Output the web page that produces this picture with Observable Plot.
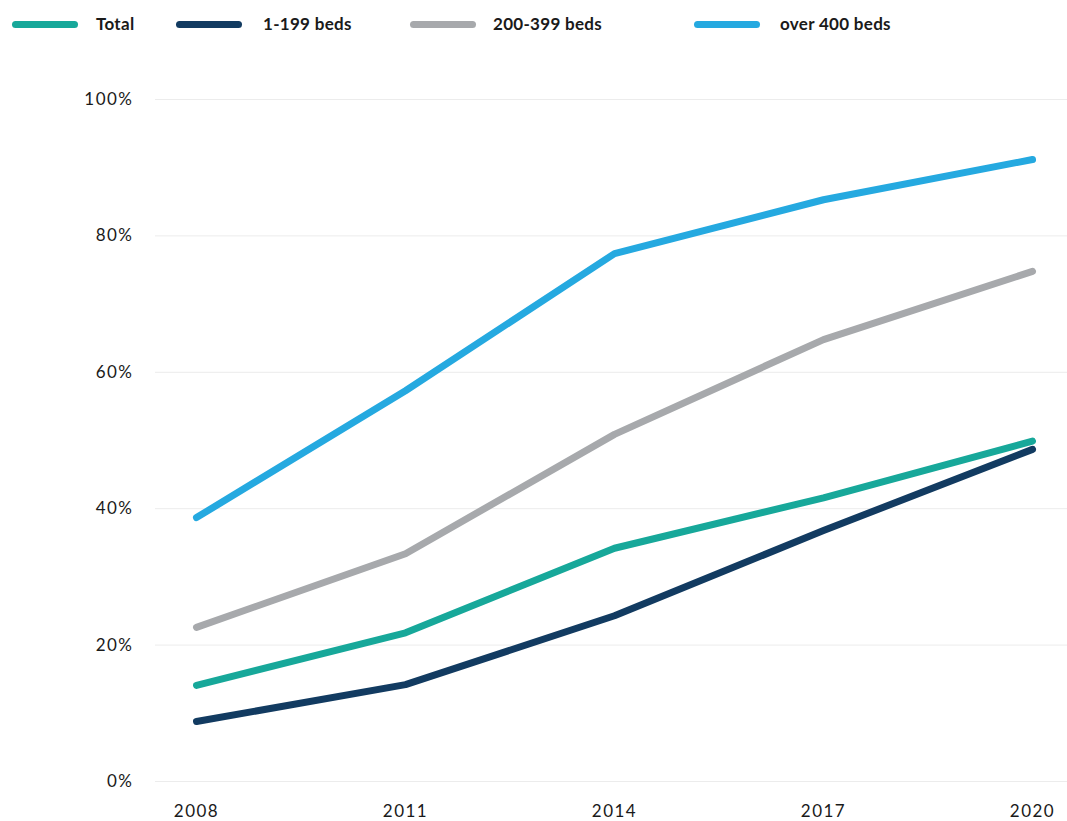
<!DOCTYPE html>
<html>
<head>
<meta charset="utf-8">
<script src="https://cdn.jsdelivr.net/npm/d3@7"></script>
<script src="https://cdn.jsdelivr.net/npm/@observablehq/plot@0.6"></script>
<style>
  html, body { margin: 0; padding: 0; background: #fff; }
  body { width: 1067px; height: 821px; overflow: hidden; font-family: Lato, "Open Sans", sans-serif; }
  #legend { position: relative; height: 48px; width: 1067px; }
  .sw { position: absolute; top: 21px; width: 66px; height: 7px; border-radius: 4px; }
  .lt { position: absolute; top: 13px; font-size: 17px; font-weight: 700; color: #1a1a1a; line-height: 22px; letter-spacing: 0.3px; }
  #chart svg text { letter-spacing: 1.5px; }
</style>
</head>
<body>
<div id="legend"></div>
<div id="chart"></div>
<script>
const years = [2008, 2011, 2014, 2017, 2020];
const seriesNames = ["Total", "1-199 beds", "200-399 beds", "over 400 beds"];
const seriesColors = ["#17a89a", "#123b61", "#a7a9ac", "#25a9e0"];
const total = [14.1, 21.8, 34.2, 41.6, 49.9];
const beds1to199 = [8.8, 14.2, 24.3, 36.8, 48.7];
const beds200to399 = [22.6, 33.4, 50.9, 64.8, 74.8];
const bedsOver400 = [38.7, 57.3, 77.4, 85.3, 91.2];
const yTicks = [0, 20, 40, 60, 80, 100];

const seriesValues = [total, beds1to199, beds200to399, bedsOver400];
const data = [];
seriesNames.forEach((name, i) => {
  years.forEach((yr, j) => data.push({series: name, year: yr, value: seriesValues[i][j]}));
});

// Legend
const legendSwatchX = [12, 176, 410, 694];
const legendTextX = [96, 263, 493, 780];
const legend = document.getElementById("legend");
seriesNames.forEach((name, i) => {
  const sw = document.createElement("div");
  sw.className = "sw";
  sw.style.left = legendSwatchX[i] + "px";
  sw.style.background = seriesColors[i];
  legend.appendChild(sw);
  const t = document.createElement("div");
  t.className = "lt";
  t.style.left = legendTextX[i] + "px";
  t.textContent = name;
  legend.appendChild(t);
});

const chart = Plot.plot({
  width: 1067,
  height: 773,
  marginTop: 51,
  marginBottom: 40,
  marginLeft: 155,
  marginRight: 0,
  style: {fontFamily: "Lato, 'Open Sans', sans-serif", fontSize: "17px", color: "#1a1a1a", background: "#fff"},
  x: {domain: [2008, 2020], insetLeft: 41, insetRight: 35},
  y: {domain: [0, 100]},
  color: {domain: seriesNames, range: seriesColors},
  marks: [
    Plot.ruleY(yTicks, {stroke: "#ececec", strokeWidth: 1}),
    Plot.axisY(yTicks, {tickSize: 0, tickPadding: 22, tickFormat: d => d + "%", label: null, fontSize: 17}),
    Plot.axisX(years, {tickSize: 0, tickPadding: 23, tickFormat: d => String(d), label: null, fontSize: 17}),
    Plot.line(data, {x: "year", y: "value", z: "series", stroke: "series", strokeWidth: 7, strokeLinecap: "round", strokeLinejoin: "round"})
  ]
});
document.getElementById("chart").appendChild(chart);
</script>
</body>
</html>
